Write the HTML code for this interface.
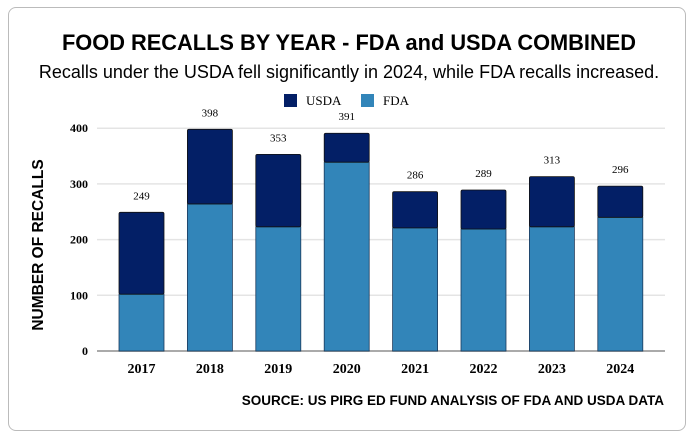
<!DOCTYPE html>
<html><head><meta charset="utf-8"><style>
html,body{margin:0;padding:0;background:#fff;}
body{width:700px;height:438px;overflow:hidden;font-family:"Liberation Sans",sans-serif;}
#card{position:absolute;left:8px;top:7px;width:678px;height:424px;border:1px solid #bbb;border-radius:8px;box-sizing:border-box;}
</style></head><body>
<div id="card"></div>
<svg id="chart" width="700" height="438" style="position:absolute;left:0;top:0">
<text x="349" y="50" text-anchor="middle" font-family="Liberation Sans, sans-serif" font-weight="bold" font-size="21.8" fill="#000">FOOD RECALLS BY YEAR - FDA and USDA COMBINED</text>
<text x="349" y="78" text-anchor="middle" font-family="Liberation Sans, sans-serif" font-size="18" fill="#000">Recalls under the USDA fell significantly in 2024, while FDA recalls increased.</text>
<g>
<g><rect x="284" y="94" width="13" height="13" fill="#031f66"/><text x="306" y="105" font-family="Liberation Serif, serif" font-size="13">USDA</text></g>
<g><rect x="361" y="94" width="13" height="13" fill="#3285b9"/><text x="383" y="105" font-family="Liberation Serif, serif" font-size="13">FDA</text></g>
</g>
<text transform="translate(43,245) rotate(-90)" text-anchor="middle" font-family="Liberation Sans, sans-serif" font-weight="bold" font-size="15.5">NUMBER OF RECALLS</text>
<g id="grid"></g><g id="bars"></g><g id="labels"></g>
<text x="664" y="405" text-anchor="end" font-family="Liberation Sans, sans-serif" font-weight="bold" font-size="13.5">SOURCE: US PIRG ED FUND ANALYSIS OF FDA AND USDA DATA</text>
</svg>
<script>
const years=["2017","2018","2019","2020","2021","2022","2023","2024"];
const fda=[102,264,223,339,221,219,223,240];
const totals=[249,398,353,391,286,289,313,296];
const yTicks=[0,100,200,300,400];
const ns="http://www.w3.org/2000/svg";
const y0=351,pxPer=0.557;
function y(v){return y0-v*pxPer;}
function xc(i){return 141.5+i*68.4;}
const bw=45;
function mk(tag,attrs,parent){const e=document.createElementNS(ns,tag);for(const k in attrs)e.setAttribute(k,attrs[k]);parent.appendChild(e);return e;}
const grid=document.getElementById('grid'),bars=document.getElementById('bars'),labels=document.getElementById('labels');
yTicks.forEach(t=>{
 const l=mk('line',{x1:97,x2:665,y1:y(t),y2:y(t),stroke:t===0?'#aaa':'#e4e4e4','stroke-width':t===0?2:1.5},grid);
 
 
 const tx=mk('text',{x:88,y:y(t)+4,'text-anchor':'end','font-family':'Liberation Serif, serif','font-weight':'bold','font-size':12},grid);
 tx.textContent=t;
 
 
});
years.forEach((yr,i)=>{
 const b1=mk('rect',{x:xc(i)-bw/2,y:y(fda[i]),width:bw,height:y(0)-y(fda[i]),fill:'#3285b9',stroke:'#1b3a5c','stroke-width':0.8},bars);
 
 
 const b2=mk('rect',{x:xc(i)-bw/2,y:y(totals[i]),width:bw,height:y(fda[i])-y(totals[i]),fill:'#031f66',stroke:'#111','stroke-width':0.8,rx:1.5},bars);
 
 
 const t=mk('text',{x:xc(i),y:y(totals[i])-13,'text-anchor':'middle','font-family':'Liberation Serif, serif','font-size':11},labels);
 t.textContent=totals[i];
 
 
 const xl=mk('text',{x:xc(i),y:373,'text-anchor':'middle','font-family':'Liberation Serif, serif','font-weight':'bold','font-size':14},labels);
 xl.textContent=yr;
 
 
});
</script>
</body></html>
